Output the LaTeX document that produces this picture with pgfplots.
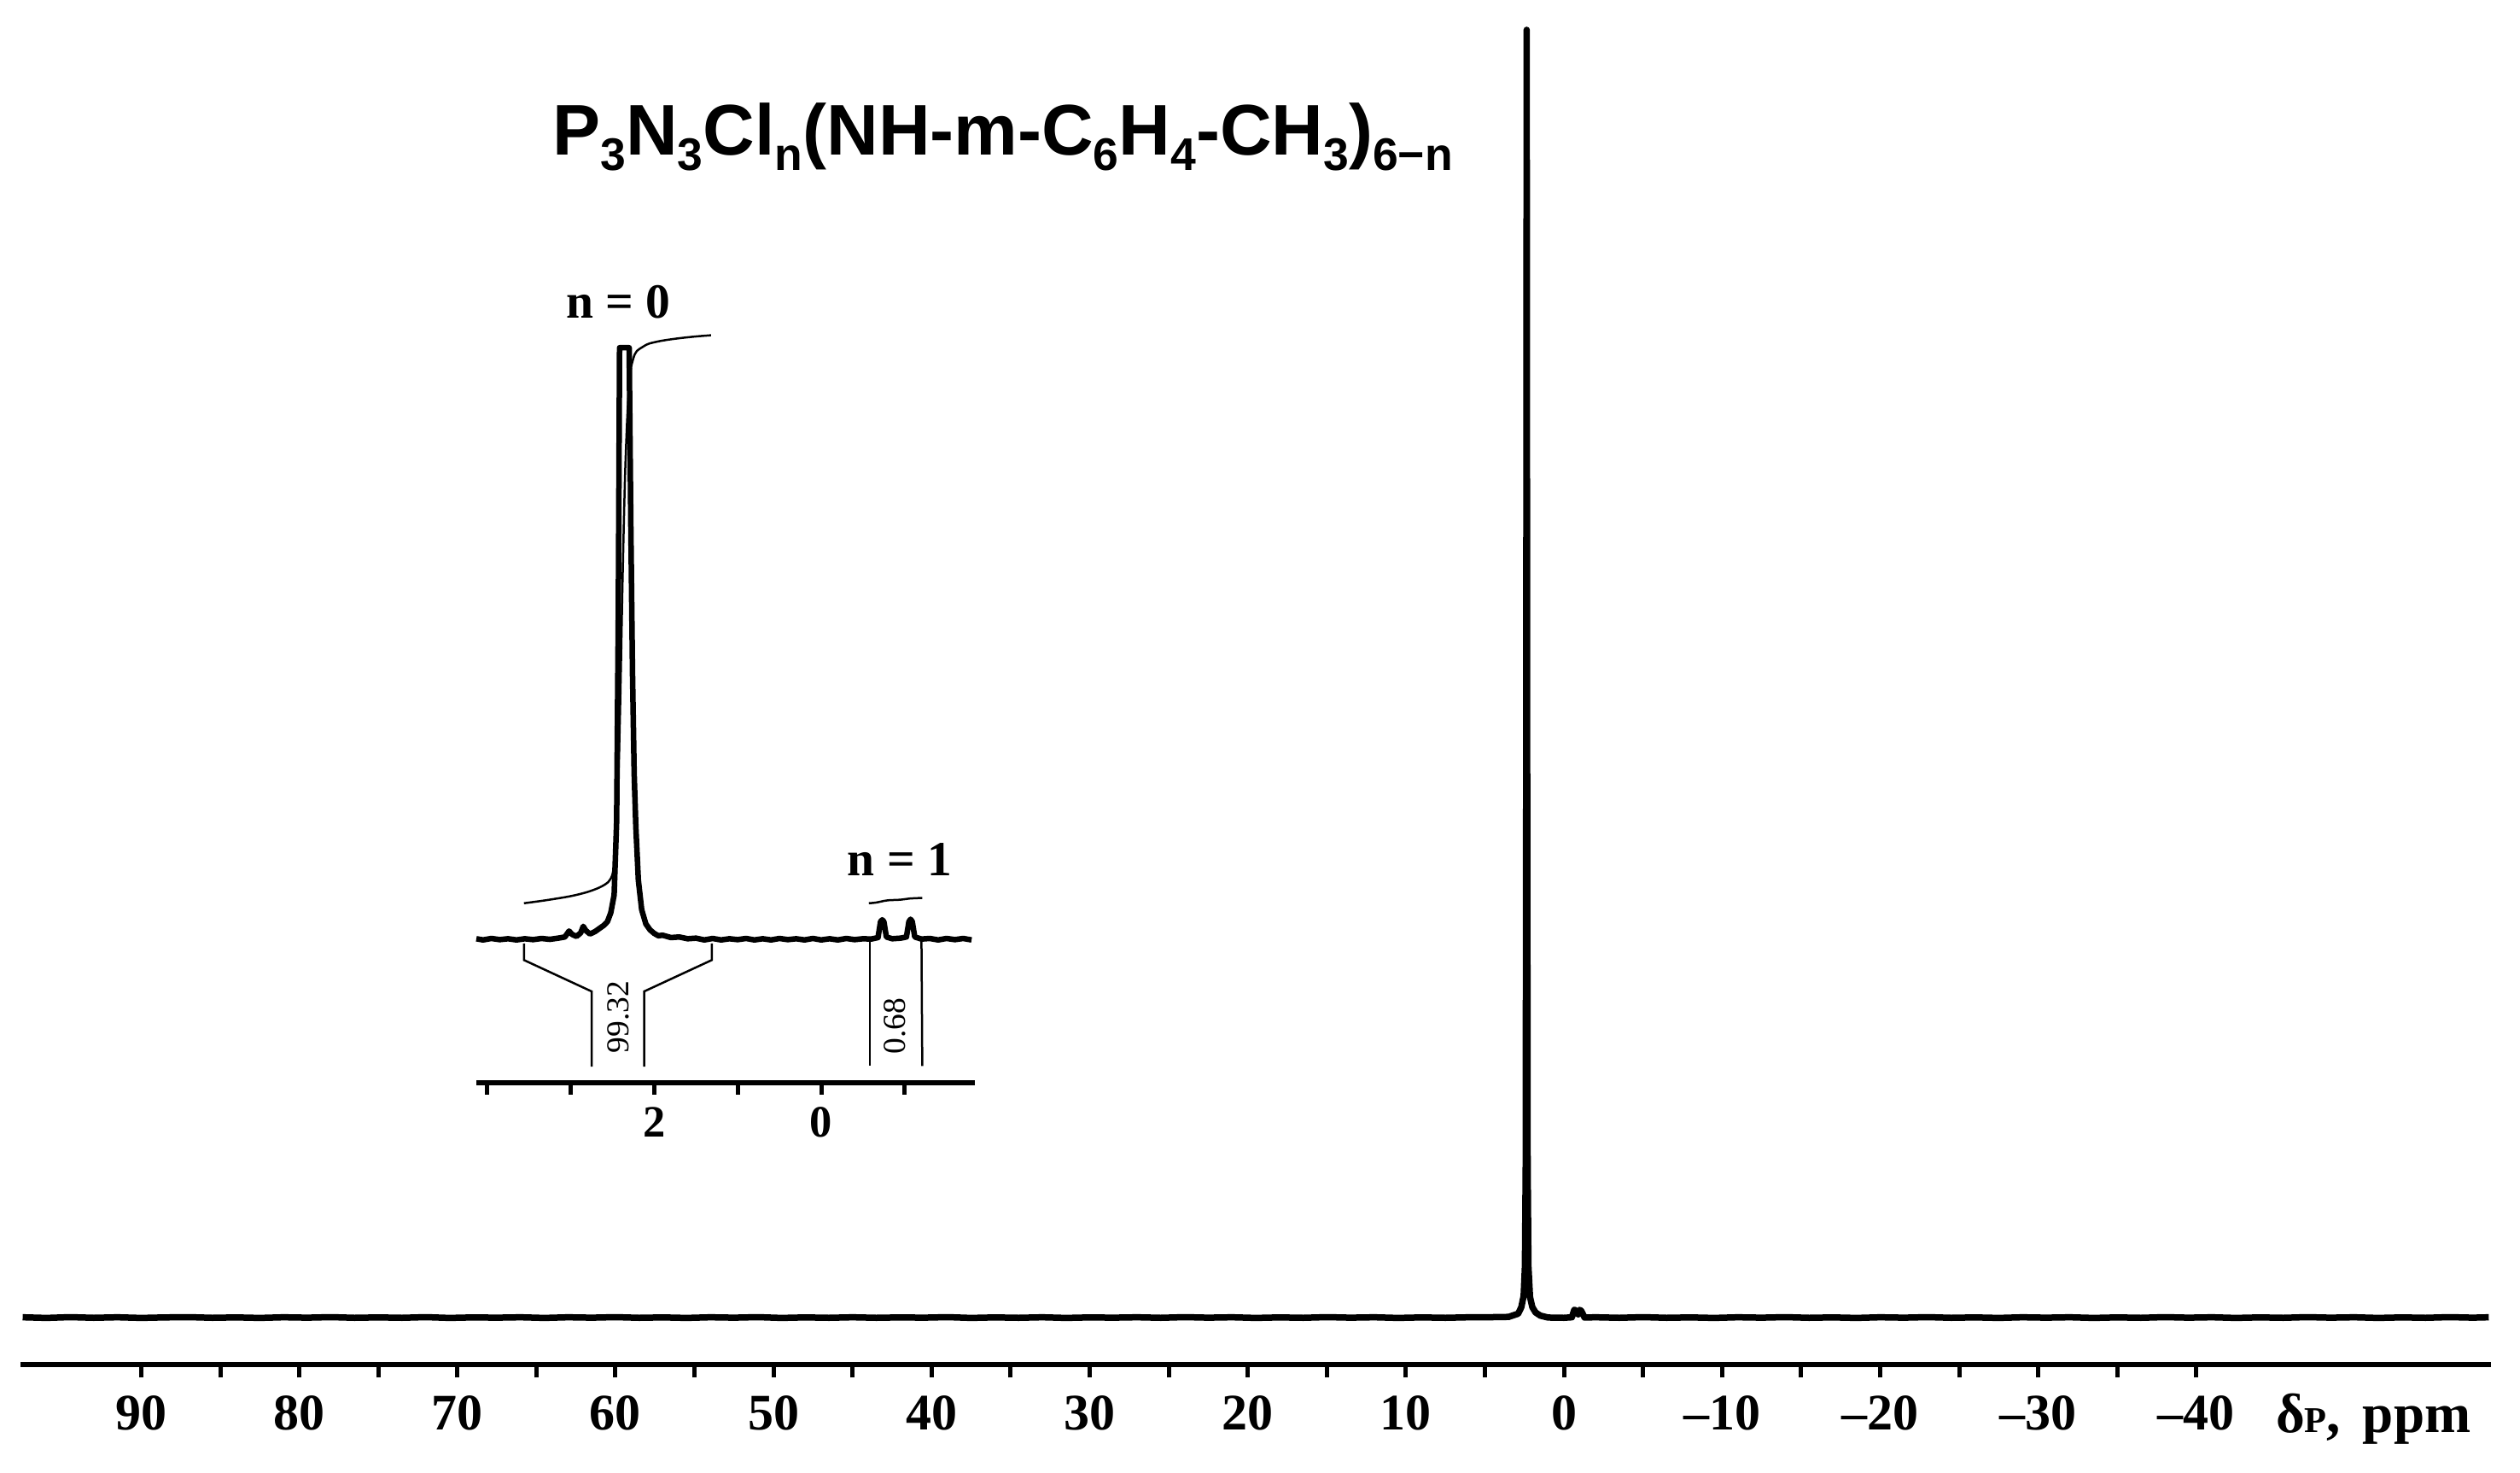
\documentclass[border=0pt]{standalone}
\usepackage{fontspec}
\setmainfont{Liberation Serif}
\newfontfamily\sans{Liberation Sans}
\usepackage{pgfplots}
\pgfplotsset{compat=1.18}

% title subscripts
\newcommand\sub[1]{\raisebox{-3.6pt}{\fontsize{10.7}{10.7}\selectfont #1}}

\begin{document}
\begin{tikzpicture}
% ---- main spectrum, full range ----
\begin{axis}[
  name=main,
  at={(0,0)}, anchor=south west,
  scale only axis, width=578.8pt, height=319.6pt,
  x dir=reverse, xmin=-58.64, xmax=97.64,
  ymin=-3.65, ymax=102.32,
  hide y axis,
  axis x line*=bottom,
  x axis line style={-, line width=1.15pt},
  tick align=outside,
  major tick length=3pt, minor tick length=3pt,
  every tick/.style={black, line width=1pt},
  xtick={-40,-30,-20,-10,0,10,20,30,40,50,60,70,80,90},
  xticklabels={–40,–30,–20,–10,0,10,20,30,40,50,60,70,80,90},
  minor xtick={-35,-25,-15,-5,5,15,25,35,45,55,65,75,85},
  xticklabel style={font=\bfseries\fontsize{12}{12}\selectfont, anchor=base, yshift=-12.3pt},
  clip=false,
]
  \addplot[black, line width=1.5pt, line join=round] coordinates {
    (97.5,0.02) (96.0,-0.03) (94.5,0.03) (93.0,-0.02) (91.5,0.02) (90.0,-0.03)
    (88.5,0.01) (87.0,0.03) (85.5,-0.02) (84.0,0.01) (82.5,-0.03) (81.0,0.02)
    (79.5,-0.01) (78.0,0.03) (76.5,-0.02) (75.0,0.01) (73.5,-0.02) (72.0,0.03)
    (70.5,-0.03) (69.0,0.01) (67.5,-0.01) (66.0,0.02) (64.5,-0.03) (63.0,0.02)
    (61.5,-0.01) (60.0,0.03) (58.5,-0.02) (57.0,0.01) (55.5,-0.03) (54.0,0.02)
    (52.5,-0.01) (51.0,0.03) (49.5,-0.03) (48.0,0.01) (46.5,-0.02) (45.0,0.02)
    (43.5,-0.02) (42.0,0.01) (40.5,-0.01) (39.0,0.03) (37.5,-0.03) (36.0,0.01)
    (34.5,-0.02) (33.0,0.02) (31.5,-0.03) (30.0,0.01) (28.5,-0.01) (27.0,0.02)
    (25.5,-0.02) (24.0,0.03) (22.5,-0.01) (21.0,0.02) (19.5,-0.03) (18.0,0.01)
    (16.5,-0.02) (15.0,0.03) (13.5,-0.01) (12.0,0.02) (10.5,-0.03) (9.0,0.01)
    (7.5,-0.02) (6.0,0.02) (4.5,0.03) (3.5,0.05) (2.9,0.3) (2.7,0.8) (2.55,1.7)
    (2.47,4) (2.42,12) (2.39,45) (2.36,100) (2.33,45) (2.30,12) (2.25,4)
    (2.15,1.6) (2.0,0.8) (1.8,0.4) (1.5,0.15) (1.0,0.0) (0.0,-0.02) (-0.5,0.02)
    (-0.65,0.6) (-0.75,0.55) (-0.9,0.25) (-1.0,0.6) (-1.1,0.5) (-1.3,0.0)
    (-2.0,0.02) (-3.5,-0.02) (-5.0,0.03) (-6.5,-0.02) (-8.0,0.01) (-9.5,-0.03)
    (-11.0,0.02) (-12.5,-0.01) (-14.0,0.03) (-15.5,-0.02) (-17.0,0.01) (-18.5,-0.03)
    (-20.0,0.02) (-21.5,-0.01) (-23.0,0.03) (-24.5,-0.02) (-26.0,0.01) (-27.5,-0.03)
    (-29.0,0.02) (-30.5,-0.01) (-32.0,0.02) (-33.5,-0.03) (-35.0,0.01) (-36.5,-0.02)
    (-38.0,0.03) (-39.5,-0.01) (-41.0,0.02) (-42.5,-0.03) (-44.0,0.01) (-45.5,-0.02)
    (-47.0,0.03) (-48.5,-0.01) (-50.0,0.02) (-51.5,-0.03) (-53.0,0.01) (-54.5,-0.02)
    (-56.0,0.03) (-57.5,-0.01) (-58.5,0.02)
  };
  \node[anchor=base, inner sep=0pt] at (axis cs:35.5,90.25)
    {\sans\bfseries\fontsize{16.8}{16.8}\selectfont P\sub{3}N\sub{3}Cl\sub{n}(NH-m-C\sub{6}H\sub{4}-CH\sub{3})\sub{6−n}};
  \node[anchor=base, inner sep=0pt] at (axis cs:-51.2,-8.95)
    {\bfseries\fontsize{13}{13}\selectfont δ{\fontsize{8.5}{8.5}\selectfont P},\hspace{0.4em}ppm};
\end{axis}

\coordinate (insetpos) at ([xshift=106.8pt,yshift=66pt]main.south west);

% ---- inset, 4 to -2 ppm with integrals ----
\begin{axis}[
  at={(insetpos)}, anchor=south west,
  scale only axis, width=116.8pt, height=177.7pt,
  x dir=reverse, xmin=-1.84, xmax=4.13,
  ymin=-24.24, ymax=104,
  hide y axis,
  axis x line*=bottom,
  x axis line style={-, line width=1.1pt},
  tick align=outside,
  major tick length=2.8pt,
  every tick/.style={black, line width=1pt},
  xtick={-1,0,1,2,3,4},
  xticklabels={,0,,2,,},
  xticklabel style={font=\bfseries\fontsize{10.5}{10.5}\selectfont, anchor=base, yshift=-10pt},
  clip=false,
]
  % spectrum
  \addplot[black, line width=1.3pt, line join=round] coordinates {
    (4.13,0.1) (4.05,-0.1) (3.95,0.15) (3.85,-0.05) (3.75,0.1) (3.65,-0.1)
    (3.55,0.1) (3.45,-0.05) (3.35,0.15) (3.25,0.0) (3.15,0.2) (3.07,0.4)
    (3.02,1.4) (2.98,0.8) (2.93,0.5) (2.88,1.1) (2.85,2.2) (2.82,1.5)
    (2.77,0.9) (2.71,1.3) (2.65,1.9) (2.60,2.4) (2.56,3.0) (2.52,4.5)
    (2.48,7.5) (2.45,20) (2.43,55) (2.415,100) (2.30,100) (2.28,70)
    (2.26,45) (2.24,28) (2.22,19) (2.19,10) (2.15,5) (2.10,2.6) (2.05,1.6)
    (2.0,1.0) (1.95,0.6) (1.9,0.7) (1.8,0.3) (1.7,0.4) (1.6,0.1) (1.5,0.2)
    (1.4,-0.1) (1.3,0.15) (1.2,-0.1) (1.1,0.1) (1.0,-0.05) (0.9,0.15) (0.8,-0.1)
    (0.7,0.1) (0.6,-0.1) (0.5,0.15) (0.4,-0.05) (0.3,0.1) (0.2,-0.1) (0.1,0.15)
    (0.0,-0.1) (-0.1,0.1) (-0.2,-0.1) (-0.3,0.15) (-0.4,-0.05) (-0.5,0.1)
    (-0.6,0.05) (-0.68,0.3) (-0.71,3.0) (-0.73,3.3) (-0.75,3.0) (-0.78,0.4)
    (-0.85,0.1) (-0.95,0.2) (-1.02,0.4) (-1.05,3.0) (-1.07,3.4) (-1.09,3.0)
    (-1.12,0.4) (-1.2,0.05) (-1.3,0.15) (-1.4,-0.1) (-1.5,0.15) (-1.6,-0.05)
    (-1.7,0.15) (-1.8,-0.1)
  };
  % integral curves
  \addplot[black, line width=0.5pt, smooth] coordinates {
    (3.56,6.1) (3.3,6.6) (3.0,7.3) (2.8,8.0) (2.65,8.8) (2.55,9.7) (2.50,11.0)
    (2.47,14) (2.44,22) (2.41,38) (2.38,60) (2.35,78) (2.32,89) (2.29,95.5)
    (2.25,98.2) (2.21,99.4) (2.13,100.2) (2.06,100.7) (1.9,101.2) (1.7,101.6)
    (1.5,101.9) (1.32,102.1)
  };
  \addplot[black, line width=0.5pt, smooth] coordinates {
    (-0.57,6.1) (-0.65,6.2) (-0.72,6.4) (-0.8,6.6) (-0.95,6.7) (-1.06,6.9) (-1.21,7.0)
  };
  % integral brackets
  \addplot[black, line width=0.5pt] coordinates {
    (3.56,-0.7) (3.56,-3.5) (2.75,-8.8) (2.75,-21.5)
  };
  \addplot[black, line width=0.5pt] coordinates {
    (1.31,-0.7) (1.31,-3.5) (2.12,-8.8) (2.12,-21.5)
  };
  \addplot[black, line width=0.5pt] coordinates {(-0.58,0.3) (-0.58,-21.4)};
  \addplot[black, line width=0.5pt] coordinates {(-1.20,0.3) (-1.21,-21.4)};
  \node[rotate=90, inner sep=0pt, font=\fontsize{7.5}{7.5}\selectfont] at (axis cs:2.43,-13.1) {99.32};
  \node[rotate=90, inner sep=0pt, font=\fontsize{7.5}{7.5}\selectfont] at (axis cs:-0.88,-14.7) {0.68};
  \node[anchor=base, inner sep=0pt, font=\bfseries\fontsize{11.5}{11.5}\selectfont] at (axis cs:2.43,105.05) {n = 0};
  \node[anchor=base, inner sep=0pt, font=\bfseries\fontsize{11.5}{11.5}\selectfont] at (axis cs:-0.94,10.8) {n = 1};
\end{axis}

\pgfresetboundingbox
\useasboundingbox ([xshift=-4.8pt,yshift=-25.2pt]main.south west) rectangle ([xshift=6.8pt]main.north east);
\end{tikzpicture}
\end{document}
